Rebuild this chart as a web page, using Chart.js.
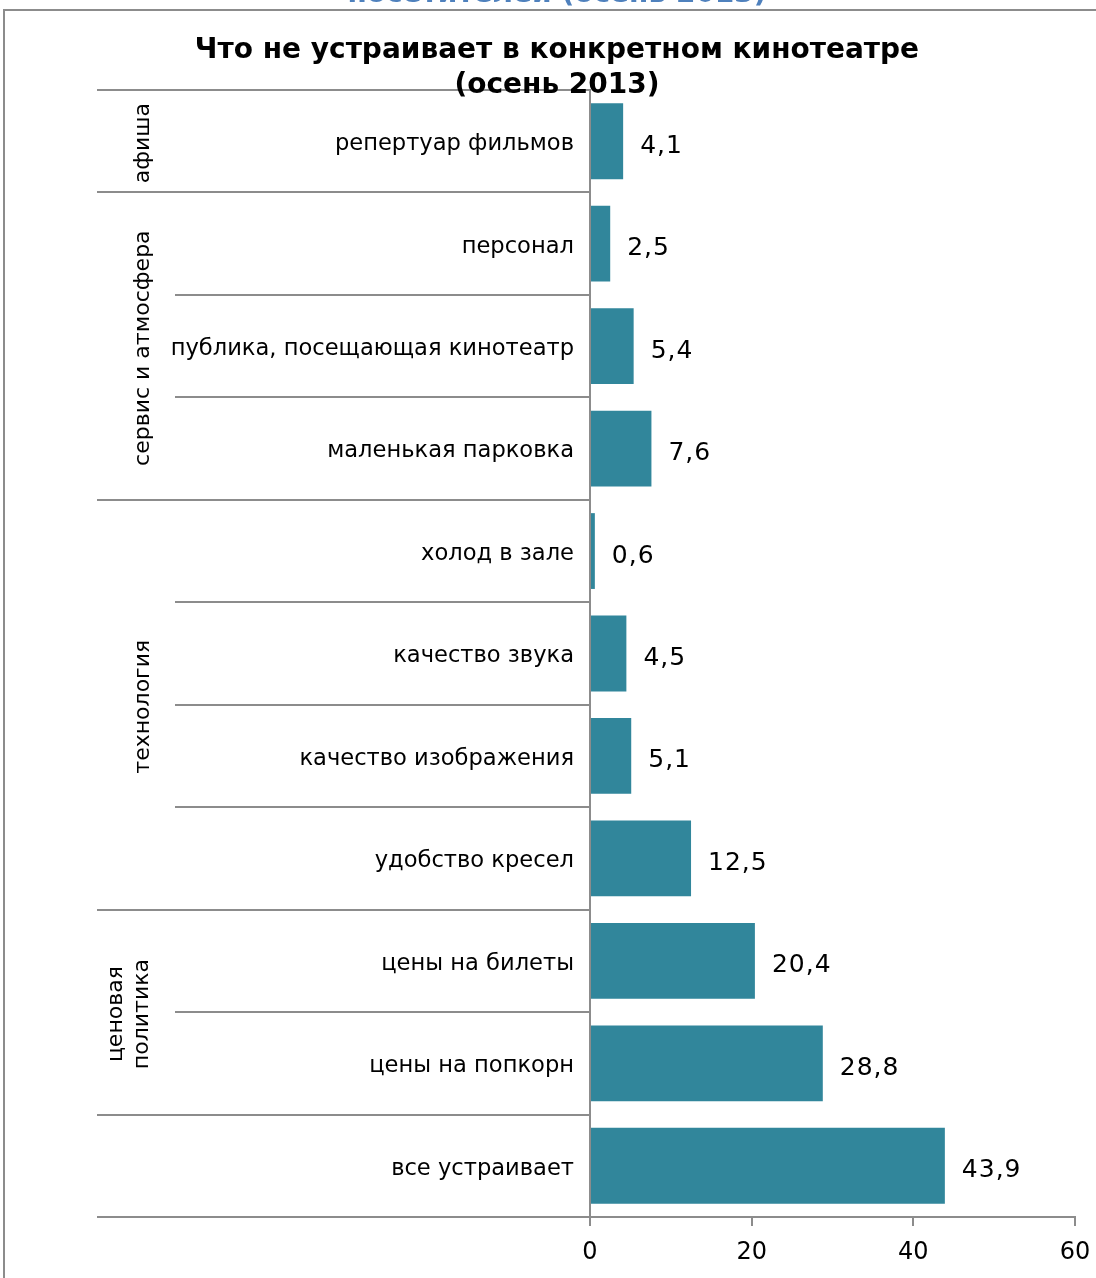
<!DOCTYPE html>
<html>
<head>
<meta charset="utf-8">
<script src="https://cdn.jsdelivr.net/npm/chart.js@4/dist/chart.umd.min.js"></script>
<style>
  html, body { margin: 0; padding: 0; background: #fff; overflow: hidden; width: 1096px; height: 1278px; }
  #wrap { position: relative; width: 1096px; height: 1278px; }
  #frame { position: absolute; left: 3px; top: 9px; width: 2000px; height: 2000px;
           border-left: 2px solid #8c8c8c; border-top: 2px solid #8c8c8c; }
  canvas { position: absolute; left: 0; top: 0; }
  .t { position: absolute; left: 9px; width: 1096px; text-align: center; font-family: "DejaVu Sans", Verdana, sans-serif; font-weight: bold; white-space: nowrap; }
  #sup { top: -24px; font-size: 28px; color: #4f81bd; }
  #title { top: 31px; font-size: 28px; line-height: 35px; color: #000; }
</style>
</head>
<body>
<div id="wrap">
  <div id="frame"></div>
  <canvas id="c" width="1096" height="1278"></canvas>
  <div class="t" id="sup">посетителей (осень 2013)</div>
  <div class="t" id="title">Что не устраивает в конкретном кинотеатре<br>(осень 2013)</div>
</div>
<script>
const categories = ['репертуар фильмов', 'персонал', 'публика, посещающая кинотеатр', 'маленькая парковка',
  'холод в зале', 'качество звука', 'качество изображения', 'удобство кресел',
  'цены на билеты', 'цены на попкорн', 'все устраивает'];
const values = [4.1, 2.5, 5.4, 7.6, 0.6, 4.5, 5.1, 12.5, 20.4, 28.8, 43.9];
const groupNames = [['афиша'], ['сервис и атмосфера'], ['технология'], ['ценовая', 'политика'], ['']];
const groupSizes = [1, 3, 4, 2, 1];
const xTicks = [0, 20, 40, 60];

const FONT = '"DejaVu Sans", Verdana, sans-serif';
const GRAY = '#8c8c8c';

const overlay = {
  id: 'overlay',
  afterDatasetsDraw(chart) {
    const ctx = chart.ctx;
    const ys = chart.scales.y;
    const area = chart.chartArea;
    const gStarts = [];
    let acc = 0;
    groupSizes.forEach(s => { gStarts.push(acc); acc += s; });
    const outer = new Set([...gStarts, acc]);
    ctx.save();
    ctx.strokeStyle = GRAY;
    ctx.lineWidth = 2;
    for (let b = 0; b <= categories.length; b++) {
      const y = Math.round(ys.getPixelForValue(b - 0.5));
      ctx.beginPath();
      ctx.moveTo(outer.has(b) ? 97 : 175, y);
      ctx.lineTo(area.left, y);
      ctx.stroke();
    }
    ctx.fillStyle = '#000';
    ctx.font = '22px ' + FONT;
    ctx.textAlign = 'center';
    ctx.textBaseline = 'middle';
    groupNames.forEach((lines, gi) => {
      const s = gStarts[gi];
      const yc = (ys.getPixelForValue(s - 0.5) + ys.getPixelForValue(s + groupSizes[gi] - 0.5)) / 2;
      const lh = 26;
      const x0 = lines.length > 1 ? 116 : 143;
      lines.forEach((ln, li) => {
        ctx.save();
        ctx.translate(x0 + li * lh, yc + 2);
        ctx.rotate(-Math.PI / 2);
        ctx.fillText(ln, 0, 0);
        ctx.restore();
      });
    });
    ctx.font = '25px ' + FONT;
    ctx.letterSpacing = '1px';
    ctx.textAlign = 'left';
    const meta = chart.getDatasetMeta(0);
    meta.data.forEach((bar, i) => {
      ctx.fillText(String(values[i]).replace('.', ','), bar.x + 17, bar.y + 5);
    });
    ctx.restore();
  }
};

new Chart(document.getElementById('c'), {
  type: 'bar',
  data: {
    labels: categories,
    datasets: [{
      data: values,
      backgroundColor: '#31869b',
      borderWidth: 0,
      barPercentage: 0.74,
      categoryPercentage: 1.0
    }]
  },
  options: {
    indexAxis: 'y',
    responsive: false,
    devicePixelRatio: 1,
    animation: false,
    layout: { padding: { top: 90, right: 21, left: 0, bottom: 0 } },
    plugins: { legend: { display: false }, tooltip: { enabled: false }, title: { display: false } },
    scales: {
      y: {
        afterFit(s) { s.width = 590; s.paddingTop = 0; s.paddingBottom = 0; },
        grid: { display: false, drawTicks: false },
        border: { display: true, color: GRAY, width: 2 },
        ticks: { color: '#000', font: { family: FONT, size: 22.6 }, padding: 16, autoSkip: false, labelOffset: 3 }
      },
      x: {
        min: 0, max: 60,
        afterFit(s) { s.height = 61; s.paddingLeft = 0; s.paddingRight = 0; },
        afterBuildTicks(s) { s.ticks = xTicks.map(v => ({ value: v })); },
        grid: { drawOnChartArea: false, drawTicks: true, tickLength: 9, color: GRAY, lineWidth: 2 },
        border: { display: true, color: GRAY, width: 2 },
        ticks: { color: '#000', font: { family: FONT, size: 24 }, padding: 12, maxRotation: 0 }
      }
    }
  },
  plugins: [overlay]
});
</script>
</body>
</html>
